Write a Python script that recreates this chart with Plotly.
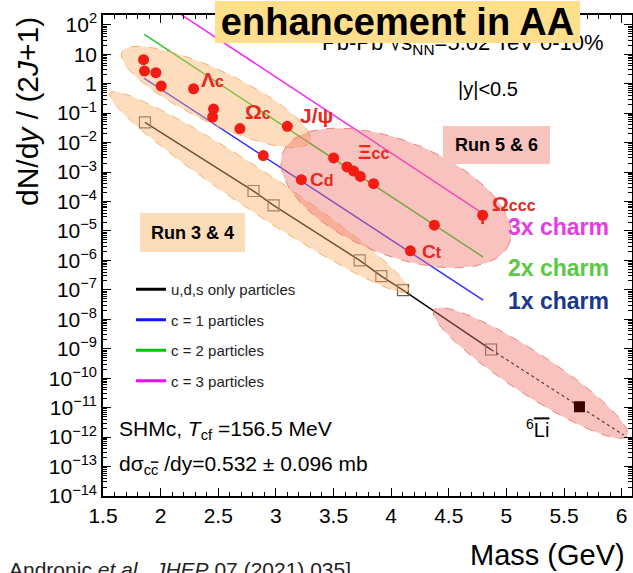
import numpy as np
import plotly.graph_objects as go

# ---------------- data ----------------
charm_mass = [1.852, 1.860, 1.959, 2.005, 2.286, 2.459, 2.451, 2.688, 3.099, 2.891,
              3.221, 3.501, 3.617, 3.674, 3.733, 3.848, 4.375, 4.167]
charm_yield = [6.5, 2.67, 2.36, 0.83, 0.67, 0.137, 0.073, 0.0297, 0.0355, 0.0036,
               5.5e-4, 3.0e-3, 1.48e-3, 1.08e-3, 7.1e-4, 4.0e-4, 1.56e-5, 2.1e-6]
omega_ccc_mass = [4.794]
omega_ccc_yield = [3.4e-5]
omega_ccc_err_up = [1.6e-5]
omega_ccc_err_down = [1.7e-5]

uds_mass = [1.864, 2.806, 2.980, 3.727, 3.915, 4.103, 4.867]
uds_yield = [0.0485, 2.26e-4, 7.4e-5, 1.0e-6, 2.9e-7, 9.7e-8, 9.4e-10]
uds_ext_mass = [4.867, 5.634, 6.018]
uds_ext_yield = [9.4e-10, 1.07e-11, 1.17e-12]
li_mass = [5.634]
li_yield = [1.07e-11]

c1_mass = [1.855, 4.798]
c1_yield = [1.55, 4.5e-8]
c2_mass = [1.858, 4.798]
c2_yield = [47.0, 1.3e-6]
c3_mass = [1.855, 4.775]
c3_yield = [1.5e3, 4.4e-5]

x_ticks = [1.5, 2, 2.5, 3, 3.5, 4, 4.5, 5, 5.5, 6]
x_ticktext = ["1.5", "2", "2.5", "3", "3.5", "4", "4.5", "5", "5.5", "6"]
y_exponents = list(range(-14, 3))
legend_names = ["u,d,s only particles", "c = 1 particles", "c = 2 particles", "c = 3 particles"]

# ---------------- layout geometry ----------------
W, H = 633, 573
L, R, T, B = 103, 632, 15, 496
PW, PH = R - L, B - T
XR = [1.5, 6.09]
YR = [-14, 2.33]


def P(px, py):
    return (px - L) / PW, (B - py) / PH


def to_data(px, py):
    xs = XR[0] + (np.asarray(px) - L) / PW * (XR[1] - XR[0])
    ys = 10 ** (YR[0] + (B - np.asarray(py)) / PH * (YR[1] - YR[0]))
    return xs, ys


def ellipse_pts(cx, cy, a, b, ang_deg, n=120):
    t = np.linspace(0, 2 * np.pi, n)
    th = np.deg2rad(ang_deg)
    xs = cx + a * np.cos(t) * np.cos(th) - b * np.sin(t) * np.sin(th)
    ys = cy + a * np.cos(t) * np.sin(th) + b * np.sin(t) * np.cos(th)
    return to_data(xs, ys)


def ellipse_tips(x1, y1, x2, y2, b):
    cx, cy = (x1 + x2) / 2, (y1 + y2) / 2
    a = np.hypot(x2 - x1, y2 - y1) / 2
    ang = np.degrees(np.arctan2(y2 - y1, x2 - x1))
    return ellipse_pts(cx, cy, a, b, ang)


ORANGE_FILL = "rgba(250,180,110,0.45)"
ORANGE_LINE = "rgba(245,170,100,0.9)"
PINK_FILL = "rgba(240,120,110,0.45)"
PINK_LINE = "rgba(235,120,110,0.9)"

ellipses = [
    (ellipse_tips(122, 52, 310, 142, 26), ORANGE_FILL, ORANGE_LINE),
    (ellipse_tips(110, 93, 408, 291, 20), ORANGE_FILL, ORANGE_LINE),
    (ellipse_pts(396, 198, 122, 57, 22), PINK_FILL, PINK_LINE),
    (ellipse_tips(434, 310, 627, 436, 21), PINK_FILL, PINK_LINE),
]

shapes = []
# Run boxes
for (x0, y0, x1, y1, col) in [(140, 213, 245, 252, "#FCDDBA"), (443, 126, 550, 164, "#F7C3BF")]:
    a0 = P(x0, y1)
    a1 = P(x1, y0)
    shapes.append(dict(type="rect", xref="paper", yref="paper", layer="above",
                       x0=a0[0], y0=a0[1], x1=a1[0], y1=a1[1],
                       fillcolor=col, line=dict(width=0)))

fig = go.Figure()

RED = "rgb(242,28,18)"
# model lines
fig.add_trace(go.Scatter(x=c1_mass, y=c1_yield, mode="lines", showlegend=False,
                         line=dict(color="rgb(50,50,255)", width=1.5)))
fig.add_trace(go.Scatter(x=c2_mass, y=c2_yield, mode="lines", showlegend=False,
                         line=dict(color="rgb(40,200,40)", width=1.5)))
fig.add_trace(go.Scatter(x=c3_mass, y=c3_yield, mode="lines", showlegend=False,
                         line=dict(color="rgb(245,40,245)", width=1.5)))
fig.add_trace(go.Scatter(x=uds_mass, y=uds_yield, mode="lines+markers", showlegend=False,
                         line=dict(color="black", width=1.5),
                         marker=dict(symbol="square-open", size=11, color="#6a5a4a",
                                     line=dict(width=1.2))))
fig.add_trace(go.Scatter(x=uds_ext_mass, y=uds_ext_yield, mode="lines", showlegend=False,
                         line=dict(color="black", width=1.2, dash="dot")))

# shaded ellipses (drawn over the model curves, under the highlighted points)
for (ex, ey), fc, lc in ellipses:
    fig.add_trace(go.Scatter(x=ex, y=ey, mode="lines", fill="toself", fillcolor=fc,
                             line=dict(color=lc, width=1, dash="dash"),
                             showlegend=False, hoverinfo="skip"))

fig.add_trace(go.Scatter(x=li_mass, y=li_yield, mode="markers", showlegend=False,
                         marker=dict(symbol="square", size=11, color="#3a0500")))
fig.add_trace(go.Scatter(x=charm_mass, y=charm_yield, mode="markers", showlegend=False,
                         marker=dict(size=11, color=RED)))
fig.add_trace(go.Scatter(x=omega_ccc_mass, y=omega_ccc_yield, mode="markers", showlegend=False,
                         marker=dict(size=11, color=RED),
                         error_y=dict(type="data", array=omega_ccc_err_up,
                                      arrayminus=omega_ccc_err_down,
                                      color=RED, thickness=2.5, width=0)))

# legend entries
legend_colors = ["black", "rgb(20,20,255)", "rgb(0,200,0)", "rgb(255,0,255)"]
for i, (nm, col) in enumerate(zip(legend_names, legend_colors)):
    fig.add_trace(go.Scatter(x=[None], y=[None], mode="lines", name=nm,
                             legendgroup=f"g{i}", line=dict(color=col, width=3)))

# ---------------- annotations ----------------
ann = []


def add_text(px, py, text, size, color="black", xanchor="center", yanchor="middle",
             bold=False, angle=0, family="Liberation Sans"):
    x, y = P(px, py)
    ann.append(dict(x=x, y=y, xref="paper", yref="paper", text=text, showarrow=False,
                    xanchor=xanchor, yanchor=yanchor, textangle=angle,
                    font=dict(size=size, color=color, family=family,
                              weight="bold" if bold else "normal")))


LAB = "rgb(232,40,30)"
add_text(212, 80, "Λ<span style='font-size:16px'>c</span>", 21, LAB, bold=True)
add_text(258, 111, "Ω<span style='font-size:16px'>c</span>", 21, LAB, bold=True)
add_text(316, 116, "J/ψ", 21, LAB, bold=True)
add_text(373, 152, "Ξ<span style='font-size:16px'>cc</span>", 21, LAB, bold=True)
add_text(322, 180, "C<span style='font-size:16px'>d</span>", 19, LAB, bold=True)
add_text(432, 251, "C<span style='font-size:16px'>t</span>", 19, LAB, bold=True)
add_text(514, 204, "Ω<span style='font-size:16px'>ccc</span>", 21, LAB, bold=True)
add_text(558, 227, "3x charm", 23, "rgb(230,60,230)", bold=True)
add_text(558, 268, "2x charm", 23, "rgb(90,200,70)", bold=True)
add_text(558, 301, "1x charm", 23, "rgb(25,55,140)", bold=True)
add_text(192.5, 232.5, "Run 3 &amp; 4", 18, bold=True)
add_text(496.5, 145, "Run 5 &amp; 6", 18, bold=True)
add_text(488, 89, "|y|&lt;0.5", 20)
add_text(117, 430, "SHMc, <i>T</i><sub>cf</sub> =156.5 MeV", 21, xanchor="left")
add_text(117, 465, "dσ<sub>c<span style='text-decoration:overline'>c</span></sub> /dy=0.532 ± 0.096 mb",
         21, xanchor="left")
add_text(537, 428, "<sup>6</sup><span style='text-decoration:overline'>Li</span>", 20)
add_text(547, 555, "Mass (GeV)", 29)
add_text(28, 112, "dN/d<i>y</i> / (2<i>J</i>+1)", 30, angle=-90)
add_text(7, 556, "Andronic <i>et al.</i>, <i>JHEP</i> 07 (2021) 035]", 21, "#222222",
         xanchor="left", yanchor="top")
add_text(463, 44, "Pb-Pb √s<sub>NN</sub>=5.02 TeV 0-10%", 22)
# title box (drawn last, on top)
tx, ty = P(397.5, 22)
ann.append(dict(x=tx, y=ty, xref="paper", yref="paper", text="<b>enhancement in AA</b>",
                showarrow=False, xanchor="center", yanchor="middle",
                width=365, height=42, bgcolor="#FFDF8C", borderpad=0, borderwidth=0,
                font=dict(size=38, color="black", family="Liberation Sans")))

lx, ly = P(131, 273)

fig.update_layout(
    width=W, height=H,
    margin=dict(l=L, r=W - R, t=T, b=H - B, pad=0, autoexpand=False),
    paper_bgcolor="white", plot_bgcolor="white",
    font=dict(family="Liberation Sans", color="black"),
    shapes=shapes, annotations=ann,
    showlegend=True,
    legend=dict(x=lx, y=ly, xanchor="left", yanchor="top", bgcolor="rgba(0,0,0,0)",
                font=dict(size=15, color="#222222"), tracegroupgap=8,
                itemwidth=30),
    xaxis=dict(range=XR, tickmode="array", tickvals=x_ticks, ticktext=x_ticktext,
               ticks="inside", ticklen=8, tickwidth=1.2, tickcolor="black",
               minor=dict(ticks="inside", ticklen=4, dtick=0.1, tick0=1.5, tickcolor="black"),
               showline=True, linewidth=1.5, linecolor="black", mirror="ticks",
               showgrid=False, zeroline=False, tickfont=dict(size=21),
               ticklabelstandoff=0, automargin=False),
    yaxis=dict(type="log", range=YR, tickmode="array",
               tickvals=[10.0 ** k for k in y_exponents],
               ticktext=[("10<sup>%s</sup>" % (str(k).replace("-", "−")) if k not in (0, 1)
                          else ("1" if k == 0 else "10")) for k in y_exponents],
               ticks="inside", ticklen=8, tickwidth=1.2, tickcolor="black",
               minor=dict(ticks="inside", ticklen=4, dtick="D1", tickcolor="black"),
               showline=True, linewidth=1.5, linecolor="black", mirror="ticks",
               showgrid=False, zeroline=False, tickfont=dict(size=21),
               automargin=False),
)

fig.write_html("out.html", config={"displayModeBar": False},
               post_script="document.body.style.margin='0px';document.body.style.overflow='hidden';")
